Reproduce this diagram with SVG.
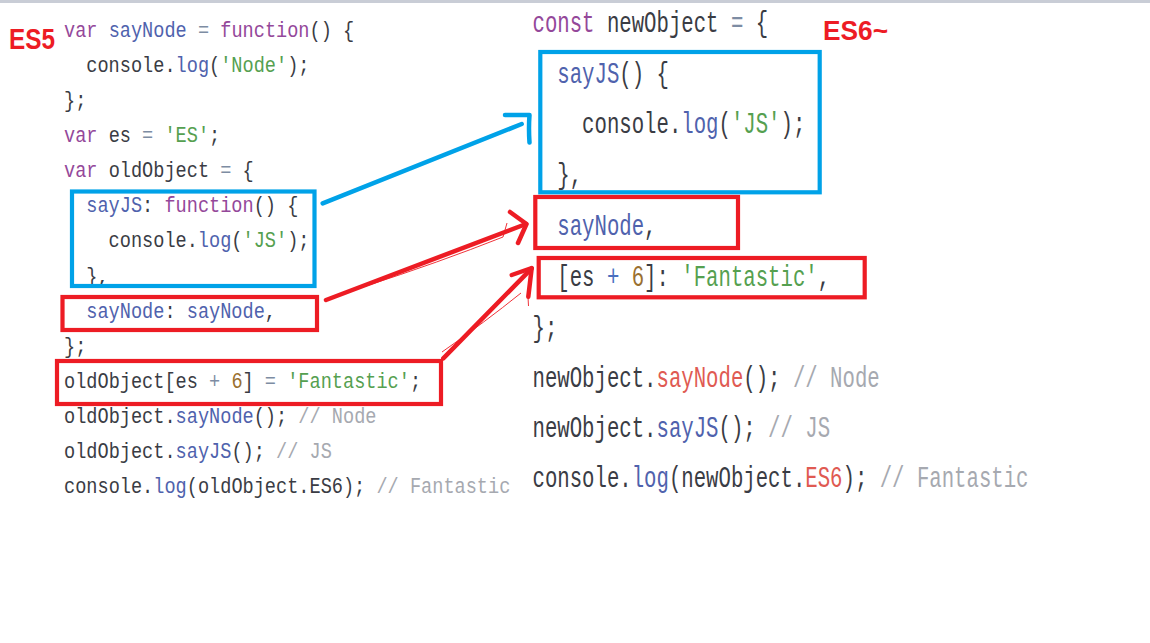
<svg xmlns="http://www.w3.org/2000/svg" width="1150" height="643" viewBox="0 0 1150 643">
<style>
.code{font-family:"Liberation Mono","DejaVu Sans Mono",monospace;font-size:18.6px;fill:#3a3c44}
.code2{font-family:"Liberation Mono","DejaVu Sans Mono",monospace;font-size:20.67px;fill:#3a3c44}
.kw{fill:#94489a}
.fn{fill:#4f62ad}
.st{fill:#55a050}
.nu{fill:#9a7030}
.op{fill:#7d8ca3}
.pl{fill:#4a6fbf}
.cm{fill:#a6a9b0}
.rd{fill:#e05a52}
.lbl{font-family:"Liberation Sans",Arial,sans-serif;font-weight:bold;fill:#ed1c24}
.bb{fill:none;stroke:#00a2e8;stroke-width:4.2}
.rb{fill:none;stroke:#ed1c24;stroke-width:4.2}
.ba{fill:none;stroke:#00a2e8;stroke-width:4.5;stroke-linecap:round;stroke-linejoin:round}
.ra{fill:none;stroke:#ed1c24;stroke-width:4.5;stroke-linecap:round;stroke-linejoin:round}
.thin{fill:none;stroke:#ed1c24;stroke-width:0.9}
</style>
<rect x="0" y="0" width="1150" height="643" fill="#ffffff"/>
<rect x="0" y="0" width="1150" height="3" fill="#c9cdd6"/>

<g id="es5-label"><text class="lbl" x="9" y="49" font-size="30" textLength="46" lengthAdjust="spacingAndGlyphs">ES5</text></g>
<g id="es6-label"><text class="lbl" x="823" y="40" font-size="27" textLength="65" lengthAdjust="spacingAndGlyphs">ES6~</text></g>

<g id="es5-code" class="code">
<text transform="translate(64,36.7) scale(1,1.14)"><tspan class="kw">var</tspan> <tspan class="fn">sayNode</tspan> <tspan class="op">=</tspan> <tspan class="kw">function</tspan>() {</text>
<text transform="translate(86.3,71.8) scale(1,1.14)">console.<tspan class="fn">log</tspan>(<tspan class="st">'Node'</tspan>);</text>
<text transform="translate(64,106.9) scale(1,1.14)">};</text>
<text transform="translate(64,142.1) scale(1,1.14)"><tspan class="kw">var</tspan> es <tspan class="op">=</tspan> <tspan class="st">'ES'</tspan>;</text>
<text transform="translate(64,177.2) scale(1,1.14)"><tspan class="kw">var</tspan> oldObject <tspan class="op">=</tspan> {</text>
<text transform="translate(86.3,212.3) scale(1,1.14)"><tspan class="fn">sayJS</tspan>: <tspan class="kw">function</tspan>() {</text>
<text transform="translate(108.6,247.4) scale(1,1.14)">console.<tspan class="fn">log</tspan>(<tspan class="st">'JS'</tspan>);</text>
<text transform="translate(86.3,282.5) scale(1,1.14)">},</text>
<text transform="translate(86.3,317.7) scale(1,1.14)"><tspan class="fn">sayNode</tspan>: <tspan class="fn">sayNode</tspan>,</text>
<text transform="translate(64,352.8) scale(1,1.14)">};</text>
<text transform="translate(64,387.9) scale(1,1.14)">oldObject[es <tspan class="op">+</tspan> <tspan class="nu">6</tspan>] <tspan class="op">=</tspan> <tspan class="st">'Fantastic'</tspan>;</text>
<text transform="translate(64,423) scale(1,1.14)">oldObject.<tspan class="fn">sayNode</tspan>(); <tspan class="cm">// Node</tspan></text>
<text transform="translate(64,458.1) scale(1,1.14)">oldObject.<tspan class="fn">sayJS</tspan>(); <tspan class="cm">// JS</tspan></text>
<text transform="translate(64,493.3) scale(1,1.14)">console.<tspan class="fn">log</tspan>(oldObject.ES6); <tspan class="cm">// Fantastic</tspan></text>
</g>

<g id="es6-code" class="code2">
<text transform="translate(532.5,32.3) scale(1,1.42)"><tspan class="kw">const</tspan> newObject <tspan class="op">=</tspan> {</text>
<text transform="translate(557.3,83) scale(1,1.42)"><tspan class="fn">sayJS</tspan>() {</text>
<text transform="translate(582.1,133.3) scale(1,1.42)">console.<tspan class="fn">log</tspan>(<tspan class="st">'JS'</tspan>);</text>
<text transform="translate(557.3,184) scale(1,1.42)">},</text>
<text transform="translate(557.3,234.5) scale(1,1.42)"><tspan class="fn">sayNode</tspan>,</text>
<text transform="translate(557.3,285.5) scale(1,1.42)">[es <tspan class="pl">+</tspan> <tspan class="nu">6</tspan>]: <tspan class="st">'Fantastic'</tspan>,</text>
<text transform="translate(532.5,336.5) scale(1,1.42)">};</text>
<text transform="translate(532.5,387) scale(1,1.42)">newObject.<tspan class="rd">sayNode</tspan>(); <tspan class="cm">// Node</tspan></text>
<text transform="translate(532.5,437) scale(1,1.42)">newObject.<tspan class="fn">sayJS</tspan>(); <tspan class="cm">// JS</tspan></text>
<text transform="translate(532.5,487) scale(1,1.42)">console.<tspan class="fn">log</tspan>(newObject.<tspan class="rd">ES6</tspan>); <tspan class="cm">// Fantastic</tspan></text>
</g>

<g id="box-es5-sayJS"><rect class="bb" x="72" y="191.5" width="242.5" height="94.5"/></g>
<g id="box-es5-sayNode"><rect class="rb" x="62.5" y="297" width="254.5" height="33"/></g>
<g id="box-es5-computed"><rect class="rb" x="57" y="361" width="384" height="43"/></g>
<g id="box-es6-sayJS"><rect class="bb" x="540.3" y="52" width="279.4" height="140.3"/></g>
<g id="box-es6-sayNode"><rect class="rb" x="535.3" y="197" width="202.7" height="51"/></g>
<g id="box-es6-computed"><rect class="rb" x="538.7" y="258" width="326" height="39.3"/></g>

<g id="connectors">
<path class="ba" d="M322.7,203.3 L521.7,124"/>
<path class="ba" d="M505,115 L529.5,115 Q528.5,128 529.5,142.5"/>
<path class="ra" d="M326,300 L526,224"/>
<path class="ra" d="M510,212 L526.5,224 L518,243"/>
<path class="thin" d="M363,287 Q440,262 503,237 L507,223"/>
<path class="ra" d="M443.3,358.3 L531.7,268.3"/>
<path class="ra" d="M511.7,275 L531.7,268 L528.3,296.7"/>
<path class="thin" d="M442,352 Q485,322 521,293"/>
<path class="thin" d="M528,297 L528.5,306"/>
</g>
</svg>
